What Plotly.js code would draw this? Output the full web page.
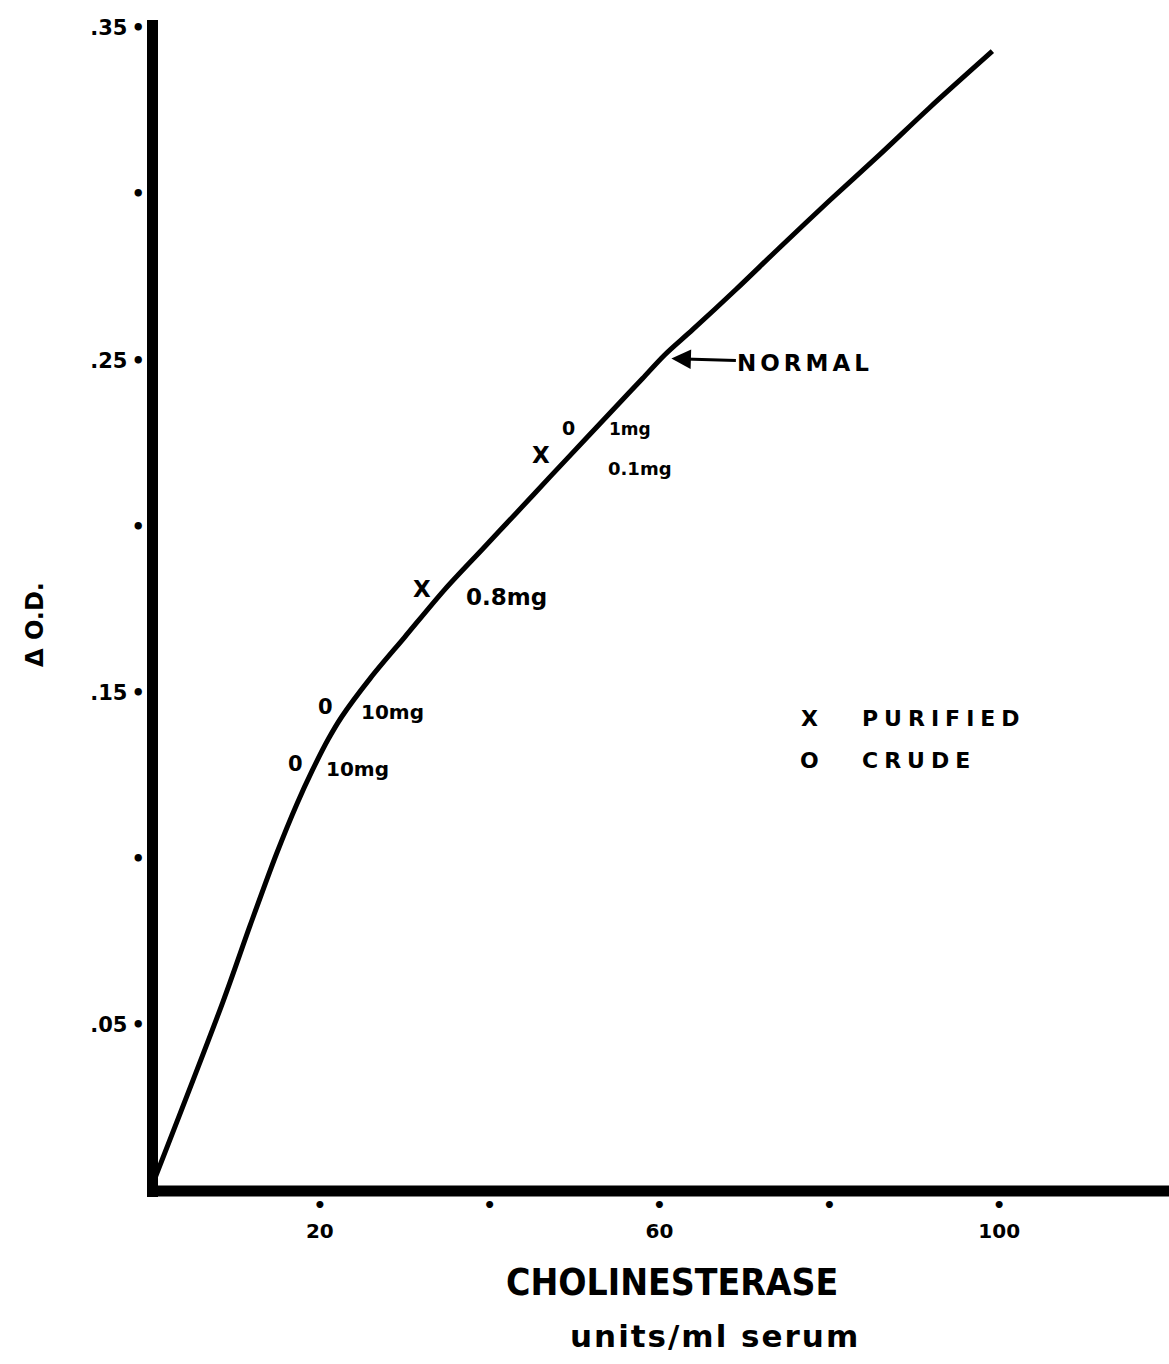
<!DOCTYPE html>
<html>
<head>
<meta charset="utf-8">
<script src="https://cdn.plot.ly/plotly-3.0.1.min.js"></script>
<style>
html,body{margin:0;padding:0;background:#fff;}
#chart{width:1169px;height:1364px;}
</style>
</head>
<body>
<div id="chart"></div>
<script>
// ---- data ----
const curveX = [0.3, 8.6, 11.8, 14.9, 17.3, 19.1, 21.0, 22.6, 26.0, 30.0, 34.7, 39.2, 43.2, 47.1, 51.4, 55.0, 58.0, 60.6, 63.9, 69.0, 74.1, 80.0, 85.9, 91.8, 99.2];
const curveY = [0.002, 0.057, 0.080, 0.1015, 0.1165, 0.1265, 0.136, 0.1428, 0.1545, 0.1667, 0.181, 0.1933, 0.2042, 0.2149, 0.2266, 0.2364, 0.2445, 0.2516, 0.2592, 0.2713, 0.2838, 0.298, 0.3118, 0.326, 0.343];

const pointX = [19.1, 22.6, 34.7, 49.3, 52.1];
const pointY = [0.128, 0.1445, 0.181, 0.221, 0.2284];
const pointSymbol = ["0", "0", "X", "X", "0"];
const pointDose = ["10mg", "10mg", "0.8mg", "0.1mg", "1mg"];

const normalX = 61.4;
const normalY = 0.2505;
const normalLabel = "NORMAL";

const legendSymbols = ["X", "O"];
const legendLabels = ["PURIFIED", "CRUDE"];

const yTickVals = [0.05, 0.10, 0.15, 0.20, 0.25, 0.30, 0.35];
const yTickText = [".05\u2009•", "•", ".15\u2009•", "•", ".25\u2009•", "•", ".35\u2009•"];
const xTickVals = [20, 40, 60, 80, 100, 120];
const xTickText = ["•<br>20", "•", "•<br>60", "•", "•<br>100", "•"];

const xTitle = "CHOLINESTERASE";
const xSubTitle = "units/ml serum";
const yTitle = "Δ O.D.";

// ---- styles ----
const symShift = [[-7, 2], [-7, 4], [-12, 1], [-17, 2], [-15, 4]];
const doseShift = [[12, -3], [17, -1], [19, -7], [37, -12], [15, 3]];
const symSize = [21, 21, 23, 23, 19];
const doseSize = [20, 20, 23, 18, 17];

const FONT = "DejaVu Sans, Liberation Sans, Arial, sans-serif";

const T = 20, B = 173, L = 150, R = 0, H = 1364, W = 1169;
const ph = H - T - B, pw = W - L - R;
function pyToPaper(py) { return (H - B - py) / ph; }
function pxToPaper(px) { return (px - L) / pw; }

const annotations = [];
for (let i = 0; i < pointX.length; i++) {
  annotations.push({
    x: pointX[i], y: pointY[i], xref: 'x', yref: 'y',
    text: '<b>' + pointSymbol[i] + '</b>', showarrow: false,
    xanchor: 'right', yanchor: 'middle',
    xshift: symShift[i][0], yshift: symShift[i][1],
    font: {family: FONT, size: symSize[i], color: '#000'}
  });
  annotations.push({
    x: pointX[i], y: pointY[i], xref: 'x', yref: 'y',
    text: '<b>' + pointDose[i] + '</b>', showarrow: false,
    xanchor: 'left', yanchor: 'middle',
    xshift: doseShift[i][0], yshift: doseShift[i][1],
    font: {family: FONT, size: doseSize[i], color: '#000'}
  });
}
// NORMAL arrow
annotations.push({
  x: normalX, y: normalY, xref: 'x', yref: 'y',
  text: '<b><span style="letter-spacing:4px">' + normalLabel + '</span></b>',
  showarrow: true, arrowhead: 2, arrowsize: 1.3, arrowwidth: 3, arrowcolor: '#000',
  ax: 134, ay: 4, xanchor: 'center', yanchor: 'middle',
  font: {family: FONT, size: 23, color: '#000'}
});
// legend text
for (let i = 0; i < legendLabels.length; i++) {
  annotations.push({
    x: pxToPaper(809), y: pyToPaper(718 + i * 42), xref: 'paper', yref: 'paper',
    text: '<b>' + legendSymbols[i] + '</b>', showarrow: false,
    xanchor: 'center', yanchor: 'middle',
    font: {family: FONT, size: 22, color: '#000'}
  });
  annotations.push({
    x: pxToPaper(860), y: pyToPaper(718 + i * 42), xref: 'paper', yref: 'paper',
    text: '<b><span style="letter-spacing:6px">' + legendLabels[i] + '</span></b>', showarrow: false,
    xanchor: 'left', yanchor: 'middle',
    font: {family: FONT, size: 22, color: '#000'}
  });
}
// axis titles
annotations.push({
  x: pxToPaper(672), y: pyToPaper(1282), xref: 'paper', yref: 'paper', text: '<b>' + xTitle + '</b>', showarrow: false,
  font: {family: "Liberation Sans Narrow, DejaVu Sans Condensed, Arial, sans-serif", size: 37, color: '#000'},
  xanchor: 'center', yanchor: 'middle'
});
annotations.push({
  x: pxToPaper(715), y: pyToPaper(1336), xref: 'paper', yref: 'paper', text: '<b><span style="letter-spacing:2px">' + xSubTitle + '</span></b>', showarrow: false,
  font: {family: FONT, size: 31, color: '#000'},
  xanchor: 'center', yanchor: 'middle'
});
annotations.push({
  x: pxToPaper(35), y: pyToPaper(625), xref: 'paper', yref: 'paper', text: '<b>' + yTitle + '</b>', showarrow: false,
  font: {family: FONT, size: 24, color: '#000'},
  textangle: -90, xanchor: 'center', yanchor: 'middle'
});

// axis lines as thick strokes
const shapes = [
  {type: 'line', xref: 'paper', yref: 'paper',
   x0: pxToPaper(152.5), x1: pxToPaper(152.5), y0: pyToPaper(1197), y1: pyToPaper(20),
   line: {color: '#000', width: 11}},
  {type: 'line', xref: 'paper', yref: 'paper',
   x0: pxToPaper(147), x1: 1.01, y0: pyToPaper(1191), y1: pyToPaper(1191),
   line: {color: '#000', width: 11}}
];

const trace = {
  x: curveX, y: curveY, type: 'scatter', mode: 'lines',
  line: {color: '#000', width: 5, shape: 'spline', smoothing: 0.9},
  hoverinfo: 'skip', showlegend: false, cliponaxis: false
};

const layout = {
  width: W, height: H,
  margin: {l: L, r: R, t: T, b: B, pad: 0},
  paper_bgcolor: '#fff', plot_bgcolor: '#fff',
  showlegend: false,
  xaxis: {
    range: [0, 120], showgrid: false, zeroline: false, showline: false,
    tickvals: xTickVals, ticktext: xTickText.map(t => '<b>' + t + '</b>'), ticks: '',
    tickfont: {family: FONT, size: 20, color: '#000'},
    ticklabelstandoff: 0,
    fixedrange: true
  },
  yaxis: {
    range: [0, 0.3524], showgrid: false, zeroline: false, showline: false,
    tickvals: yTickVals, ticktext: yTickText.map(t => '<b>' + t + '</b>'), ticks: '',
    tickfont: {family: FONT, size: 21, color: '#000'},
    ticklabelstandoff: 4,
    fixedrange: true
  },
  shapes: shapes,
  annotations: annotations
};

Plotly.newPlot('chart', [trace], layout, {displayModeBar: false, staticPlot: true});
</script>
</body>
</html>
